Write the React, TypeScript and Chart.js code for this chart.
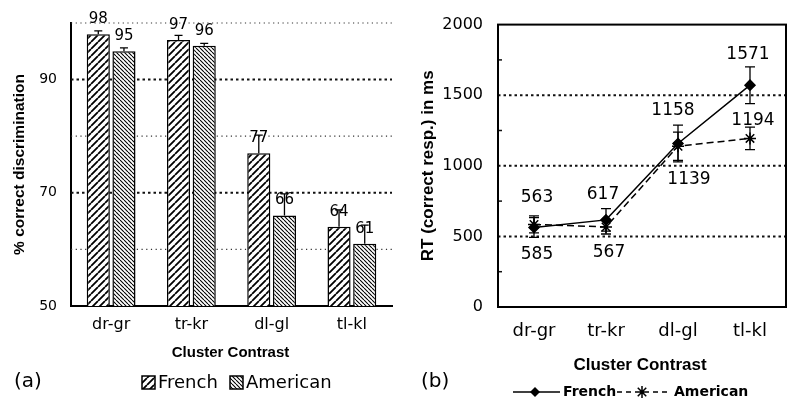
import React, { useEffect, useRef } from "react";
import { Chart, registerables } from "chart.js";
Chart.register(...registerables);

// ---------- data ----------
const categories = ["dr-gr", "tr-kr", "dl-gl", "tl-kl"];
const frenchPct = [98, 97, 77, 64];
const americanPct = [95, 96, 66, 61];
const frenchPctErr = [0.6, 0.8, 3.2, 3.0];
const americanPctErr = [0.6, 0.4, 3.8, 3.3];
const pctTicks = [50, 70, 90];
const pctGrid = [60, 70, 80, 90, 100];

const frenchRT = [563, 617, 1158, 1571];
const americanRT = [585, 567, 1139, 1194];
const frenchRTErr = [70, 80, 130, 130];
const americanRTErr = [60, 50, 100, 80];
const rtTicks = [0, 500, 1000, 1500, 2000];
const rtGrid = [500, 1000, 1500];
const rtMinor = [250, 750, 1250, 1750];

// label offsets (pixels) for RT value labels
const frenchLabelOffsets = [[3, -30], [-3, -25], [-5, -33], [-2, -31]];
const americanLabelOffsets = [[3, 30], [3, 26], [11, 33], [3, -18]];

const SANS = "'DejaVu Sans', sans-serif";
const BOLD = "'Liberation Sans', Arial, sans-serif";

function makeHatch(ctx: CanvasRenderingContext2D, size: number, lw: number, dir: string) {
  const c = document.createElement("canvas");
  c.width = size;
  c.height = size;
  const g = c.getContext("2d")!;
  g.fillStyle = "#fff";
  g.fillRect(0, 0, size, size);
  g.strokeStyle = "#000";
  g.lineWidth = lw;
  g.beginPath();
  for (const o of [-size, 0, size]) {
    if (dir === "/") {
      g.moveTo(o, size);
      g.lineTo(o + size, 0);
    } else {
      g.moveTo(o, 0);
      g.lineTo(o + size, size);
    }
  }
  g.stroke();
  return ctx.createPattern(c, "repeat")!;
}

export default function App() {
  const leftRef = useRef<HTMLCanvasElement>(null);
  const rightRef = useRef<HTMLCanvasElement>(null);

  useEffect(() => {
    const lc = leftRef.current!;
    const rc = rightRef.current!;
    const lctx = lc.getContext("2d")!;
    const frPat = makeHatch(lctx, 7, 1.8, "/");
    const amPat = makeHatch(lctx, 4, 1.1, "\\");

    const barDecor = {
      id: "barDecor",
      beforeDatasetsDraw(chart: any) {
        const { ctx, chartArea: a, scales } = chart;
        const y = scales.y;
        ctx.save();
        for (const v of pctGrid) {
          const py = y.getPixelForValue(v);
          const major = pctTicks.includes(v);
          ctx.beginPath();
          ctx.setLineDash(major ? [2.5, 3] : [1.2, 3.5]);
          ctx.lineWidth = major ? 2 : 1.2;
          ctx.strokeStyle = major ? "#111" : "#333";
          ctx.moveTo(a.left, py);
          ctx.lineTo(a.right, py);
          ctx.stroke();
        }
        ctx.restore();
      },
      afterDatasetsDraw(chart: any) {
        const { ctx, scales } = chart;
        const y = scales.y;
        const errs = [frenchPctErr, americanPctErr];
        ctx.save();
        chart.data.datasets.forEach((ds: any, di: number) => {
          const meta = chart.getDatasetMeta(di);
          meta.data.forEach((bar: any, i: number) => {
            const v = ds.data[i];
            const top = y.getPixelForValue(v + errs[di][i]);
            ctx.beginPath();
            ctx.setLineDash([]);
            ctx.lineWidth = 1.3;
            ctx.strokeStyle = "#000";
            ctx.moveTo(bar.x, bar.y);
            ctx.lineTo(bar.x, top);
            ctx.moveTo(bar.x - 4, top);
            ctx.lineTo(bar.x + 4, top);
            ctx.stroke();
            ctx.fillStyle = "#000";
            ctx.font = `15px ${SANS}`;
            ctx.textAlign = "center";
            ctx.textBaseline = "middle";
            ctx.fillText(String(v), bar.x, bar.y - 15);
          });
        });
        ctx.restore();
      },
      afterDraw(chart: any) {
        const { ctx, chartArea: a } = chart;
        ctx.save();
        ctx.fillStyle = "#000";
        ctx.textAlign = "center";
        ctx.textBaseline = "middle";
        ctx.font = `bold 15px ${BOLD}`;
        ctx.fillText("Cluster Contrast", (a.left + a.right) / 2 - 1, 353);
        ctx.save();
        ctx.translate(20, (a.top + a.bottom) / 2);
        ctx.rotate(-Math.PI / 2);
        ctx.font = `bold 15.5px ${BOLD}`;
        ctx.fillText("% correct discrimination", 0, 0);
        ctx.restore();
        ctx.font = `20px ${SANS}`;
        ctx.textAlign = "left";
        ctx.fillText("(a)", 14, 382);
        // legend
        const items = [
          { x: 142, label: "French", pat: frPat },
          { x: 230, label: "American", pat: amPat },
        ];
        for (const it of items) {
          ctx.fillStyle = it.pat;
          ctx.fillRect(it.x, 376, 13, 13);
          ctx.strokeStyle = "#000";
          ctx.lineWidth = 1.5;
          ctx.strokeRect(it.x, 376, 13, 13);
          ctx.fillStyle = "#000";
          ctx.font = `18px ${SANS}`;
          ctx.textAlign = "left";
          ctx.fillText(it.label, it.x + 16, 383);
        }
        ctx.restore();
      },
    };

    const left = new Chart(lc, {
      type: "bar",
      data: {
        labels: categories,
        datasets: [
          { label: "French", data: frenchPct, backgroundColor: frPat, borderColor: "#000", borderWidth: 1.5, borderSkipped: false, barPercentage: 0.9, categoryPercentage: 0.64 },
          { label: "American", data: americanPct, backgroundColor: amPat, borderColor: "#000", borderWidth: 1.5, borderSkipped: false, barPercentage: 0.9, categoryPercentage: 0.64 },
        ],
      } as any,
      options: {
        animation: false,
        responsive: false,
        layout: { padding: { top: 23, right: 8, left: 0, bottom: 0 } },
        plugins: { legend: { display: false }, tooltip: { enabled: false } },
        scales: {
          x: {
            grid: { display: false, drawTicks: false },
            border: { display: true, color: "#000", width: 2 },
            ticks: { color: "#000", font: { family: SANS, size: 16 }, padding: 9 },
            afterFit: (s: any) => { s.height = 107; },
          },
          y: {
            min: 50,
            max: 100,
            afterBuildTicks: (s: any) => { s.ticks = pctTicks.map((v) => ({ value: v })); },
            grid: { display: false, drawTicks: false },
            border: { display: true, color: "#000", width: 2 },
            ticks: { color: "#000", font: { family: SANS, size: 14 }, padding: 14, callback: (v: any) => String(v) },
            afterFit: (s: any) => { s.width = 71; },
          },
        },
      } as any,
      plugins: [barDecor],
    });

    const drawDiamond = (ctx: CanvasRenderingContext2D, x: number, y: number, r: number) => {
      ctx.beginPath();
      ctx.moveTo(x, y - r);
      ctx.lineTo(x + r, y);
      ctx.lineTo(x, y + r);
      ctx.lineTo(x - r, y);
      ctx.closePath();
      ctx.fill();
    };
    const drawStar = (ctx: CanvasRenderingContext2D, x: number, y: number, r: number) => {
      ctx.beginPath();
      ctx.moveTo(x - r, y); ctx.lineTo(x + r, y);
      ctx.moveTo(x, y - r); ctx.lineTo(x, y + r);
      const d = r * 0.7071;
      ctx.moveTo(x - d, y - d); ctx.lineTo(x + d, y + d);
      ctx.moveTo(x - d, y + d); ctx.lineTo(x + d, y - d);
      ctx.stroke();
    };

    const lineDecor = {
      id: "lineDecor",
      beforeDatasetsDraw(chart: any) {
        const { ctx, chartArea: a, scales } = chart;
        const y = scales.y;
        ctx.save();
        for (const v of rtGrid) {
          const py = y.getPixelForValue(v);
          ctx.beginPath();
          ctx.setLineDash([2.5, 3]);
          ctx.lineWidth = 2;
          ctx.strokeStyle = "#111";
          ctx.moveTo(a.left, py);
          ctx.lineTo(a.right, py);
          ctx.stroke();
        }
        ctx.setLineDash([]);
        ctx.lineWidth = 1.5;
        for (const v of rtMinor) {
          const py = y.getPixelForValue(v);
          ctx.beginPath();
          ctx.moveTo(a.left, py);
          ctx.lineTo(a.left + 4, py);
          ctx.stroke();
        }
        // error bars
        const errs = [frenchRTErr, americanRTErr];
        ctx.lineWidth = 1.3;
        ctx.strokeStyle = "#000";
        chart.data.datasets.forEach((ds: any, di: number) => {
          const meta = chart.getDatasetMeta(di);
          meta.data.forEach((pt: any, i: number) => {
            const v = ds.data[i];
            const t = y.getPixelForValue(v + errs[di][i]);
            const b = y.getPixelForValue(v - errs[di][i]);
            ctx.beginPath();
            ctx.moveTo(pt.x, t); ctx.lineTo(pt.x, b);
            ctx.moveTo(pt.x - 5, t); ctx.lineTo(pt.x + 5, t);
            ctx.moveTo(pt.x - 5, b); ctx.lineTo(pt.x + 5, b);
            ctx.stroke();
          });
        });
        ctx.restore();
      },
      afterDraw(chart: any) {
        const { ctx, chartArea: a } = chart;
        ctx.save();
        ctx.strokeStyle = "#000";
        ctx.lineWidth = 2;
        ctx.setLineDash([]);
        ctx.strokeRect(a.left, a.top, a.right - a.left, a.bottom - a.top);
        ctx.fillStyle = "#000";
        ctx.textAlign = "center";
        ctx.textBaseline = "middle";
        // value labels
        ctx.font = `17px ${SANS}`;
        const offs = [frenchLabelOffsets, americanLabelOffsets];
        chart.data.datasets.forEach((ds: any, di: number) => {
          const meta = chart.getDatasetMeta(di);
          meta.data.forEach((pt: any, i: number) => {
            const [dx, dy] = offs[di][i];
            ctx.fillText(String(ds.data[i]), pt.x + dx, pt.y + dy);
          });
        });
        ctx.font = `bold 17px ${BOLD}`;
        ctx.fillText("Cluster Contrast", (a.left + a.right) / 2 - 2, 365);
        ctx.save();
        ctx.translate(28, (a.top + a.bottom) / 2);
        ctx.rotate(-Math.PI / 2);
        ctx.font = `bold 17px ${BOLD}`;
        ctx.fillText("RT (correct resp.) in ms", 0, 0);
        ctx.restore();
        ctx.font = `20px ${SANS}`;
        ctx.textAlign = "left";
        ctx.fillText("(b)", 21, 382);
        // legend
        const ly = 392;
        ctx.lineWidth = 1.5;
        ctx.beginPath();
        ctx.moveTo(113, ly); ctx.lineTo(160, ly);
        ctx.stroke();
        drawDiamond(ctx, 135, ly, 5);
        ctx.setLineDash([5, 4]);
        ctx.beginPath();
        ctx.moveTo(217, ly); ctx.lineTo(270, ly);
        ctx.stroke();
        ctx.setLineDash([]);
        ctx.fillStyle = "#fff";
        ctx.fillRect(236, ly - 6, 12, 12);
        drawStar(ctx, 242, ly, 6);
        ctx.fillStyle = "#000";
        ctx.font = `bold 14px ${SANS}`;
        ctx.fillText("French", 163, ly);
        ctx.fillText("American", 274, ly);
        ctx.restore();
      },
    };

    const right = new Chart(rc, {
      type: "line",
      data: {
        labels: categories,
        datasets: [
          { label: "French", data: frenchRT, borderColor: "#000", borderWidth: 1.5, pointStyle: "rectRot", pointRadius: 5, pointBackgroundColor: "#000", pointBorderColor: "#000", tension: 0 },
          { label: "American", data: americanRT, borderColor: "#000", borderWidth: 1.5, borderDash: [7, 4], pointStyle: "star", pointRadius: 6, pointBorderWidth: 1.5, pointBorderColor: "#000", pointBackgroundColor: "#000", tension: 0 },
        ],
      } as any,
      options: {
        animation: false,
        responsive: false,
        layout: { padding: { top: 24, right: 14, left: 0, bottom: 0 } },
        plugins: { legend: { display: false }, tooltip: { enabled: false } },
        scales: {
          x: {
            offset: true,
            grid: { display: false, drawTicks: false },
            border: { display: false },
            ticks: { color: "#000", font: { family: SANS, size: 18 }, padding: 14 },
            afterFit: (s: any) => { s.height = 106; },
          },
          y: {
            min: 0,
            max: 2000,
            afterBuildTicks: (s: any) => { s.ticks = rtTicks.map((v) => ({ value: v })); },
            grid: { display: false, drawTicks: false },
            border: { display: false },
            ticks: { color: "#000", font: { family: SANS, size: 16 }, padding: 15, callback: (v: any) => String(v) },
            afterFit: (s: any) => { s.width = 98; },
          },
        },
      } as any,
      plugins: [lineDecor],
    });

    return () => {
      left.destroy();
      right.destroy();
    };
  }, []);

  return (
    <div style={{ position: "fixed", left: 0, top: 0, width: 800, height: 413, background: "#fff" }}>
      <canvas ref={leftRef} width={400} height={413} style={{ position: "absolute", left: 0, top: 0, width: 400, height: 413 }} />
      <canvas ref={rightRef} width={400} height={413} style={{ position: "absolute", left: 400, top: 0, width: 400, height: 413 }} />
    </div>
  );
}
